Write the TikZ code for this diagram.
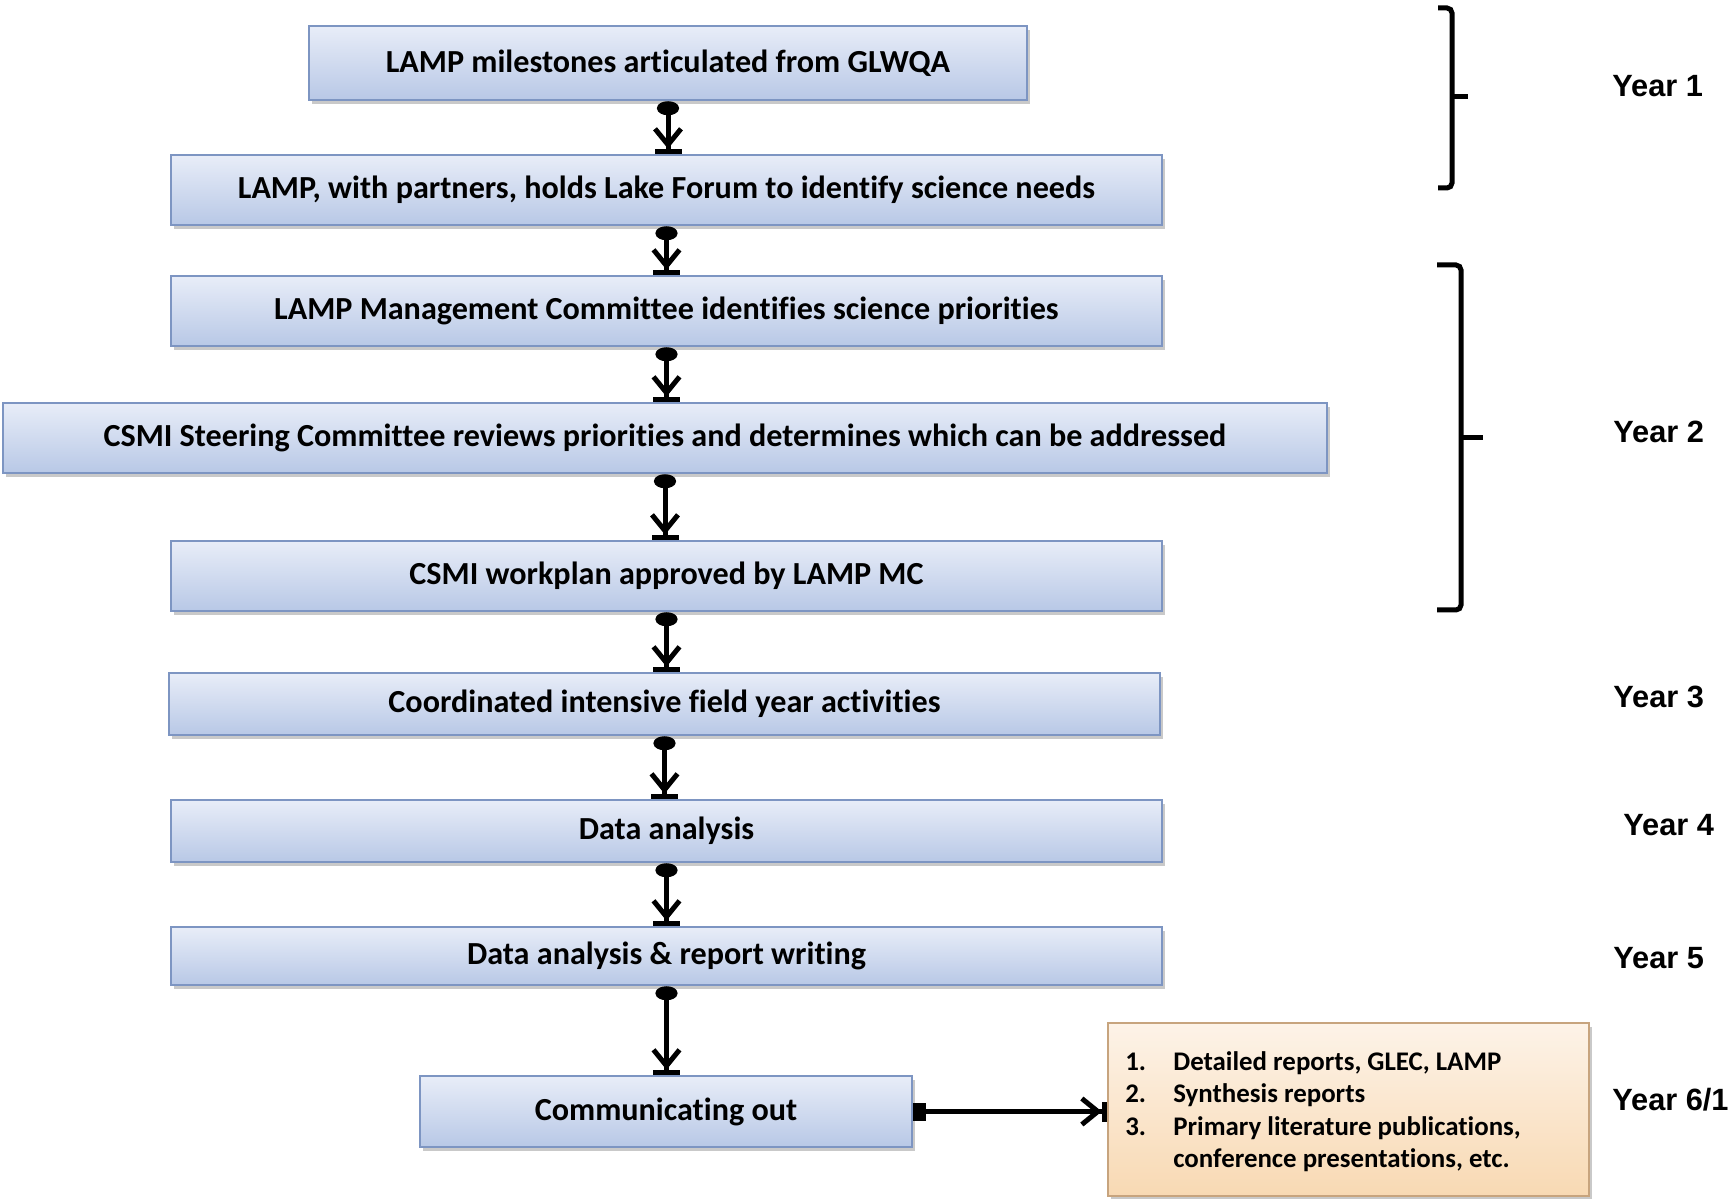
\documentclass[tikz,border=0pt]{standalone}
\usepackage{fontspec}
\setmainfont{Carlito}[Ligatures={NoCommon}]
\newfontfamily\arialfont{Liberation Sans}
\usetikzlibrary{arrows.meta,shadows}
\definecolor{boxtop}{HTML}{E8EDF8}
\definecolor{boxbot}{HTML}{B8C8E6}
\definecolor{boxline}{HTML}{7D95C2}
\definecolor{ortop}{HTML}{FDF3E8}
\definecolor{orbot}{HTML}{F8D9B3}
\definecolor{orline}{HTML}{C7A47E}
\begin{document}
\begin{tikzpicture}[x=0.02cm,y=-0.02cm,
  box/.style={draw=boxline, line width=0.05cm, top color=boxtop, bottom color=boxbot,
    minimum width=19.82cm, minimum height=1.4cm, inner sep=0pt,
    font=\fontsize{18.3}{22}\selectfont\bfseries,
    drop shadow={shadow xshift=0.06cm, shadow yshift=-0.08cm, opacity=0.3, fill=black!70}},
  orbox/.style={draw=orline, line width=0.05cm, top color=ortop, bottom color=orbot,
    minimum width=9.62cm, minimum height=3.46cm, inner sep=0pt,
    drop shadow={shadow xshift=0.06cm, shadow yshift=-0.08cm, opacity=0.3, fill=black!70}},
  conn/.style={line width=0.1cm,
    {Ellipse[length=0.28cm,width=0.44cm]}-{Straight Barb[length=0.32cm,width=0.52cm] Rectangle[length=0.1cm,width=0.54cm]}},
  hconn/.style={line width=0.1cm,
    {Rectangle[length=0.26cm,width=0.36cm]}-{Straight Barb[length=0.32cm,width=0.52cm] Rectangle[length=0.1cm,width=0.4cm]}},
  yearlbl/.style={anchor=west, inner sep=0pt, font=\arialfont\fontsize{17.5}{21}\selectfont\bfseries},
  brace/.style={line width=0.1cm, rounded corners=0.1cm},
  item/.style={anchor=base west, inner sep=0pt, font=\fontsize{15.3}{18}\selectfont\bfseries}
]
\useasboundingbox (0,0) rectangle (1729,1199);

\node[box, minimum width=14.36cm, minimum height=1.48cm] (b1) at (668,63) {LAMP milestones articulated from GLWQA};
\node[box] (b2) at (666.5,190) {LAMP, with partners, holds Lake Forum to identify science needs};
\node[box] (b3) at (666.5,311) {LAMP Management Committee identifies science priorities};
\node[box, minimum width=26.48cm] (b4) at (665,438) {CSMI Steering Committee reviews priorities and determines which can be addressed};
\node[box] (b5) at (666.5,576) {CSMI workplan approved by LAMP MC};
\node[box, minimum height=1.24cm] (b6) at (664.5,704) {Coordinated intensive field year activities};
\node[box, minimum height=1.24cm] (b7) at (666.5,831) {Data analysis};
\node[box, minimum height=1.16cm] (b8) at (666.5,956) {Data analysis \& report writing};
\node[box, minimum width=9.84cm, minimum height=1.42cm] (b9) at (666,1111.5) {Communicating out};
\node[orbox] (b10) at (1348.5,1109.5) {};

\node[item] (i1n) at (1125,1070) {1.};
\node[item] (i1) at (1173,1070) {Detailed reports, GLEC, LAMP};
\node[item] (i2n) at (1125,1102) {2.};
\node[item] (i2) at (1173,1102) {Synthesis reports};
\node[item] (i3n) at (1125,1135) {3.};
\node[item] (i3) at (1173,1135) {Primary literature publications,};
\node[item] (i4) at (1173,1167) {conference presentations, etc.};

\foreach \a/\b in {b1/b2,b2/b3,b3/b4,b4/b5,b5/b6,b6/b7,b7/b8,b8/b9}
  \draw[conn] (\a.south) -- (\a.south |- \b.north);
\draw[hconn] (b9.east) -- (b10.west |- b9.east);

\draw[brace] (1438,8) -- (1452,8) -- (1452,188) -- (1438,188);
\draw[line width=0.1cm] (1452,97) -- (1468,97);
\draw[brace] (1437,265) -- (1461,265) -- (1461,610) -- (1437,610);
\draw[line width=0.1cm] (1461,438) -- (1483,438);

\node[yearlbl] (y1) at (1612,86) {Year 1};
\node[yearlbl] (y2) at (1613,432) {Year 2};
\node[yearlbl] (y3) at (1613,697) {Year 3};
\node[yearlbl] (y4) at (1623,825) {Year 4};
\node[yearlbl] (y5) at (1613,958) {Year 5};
\node[yearlbl] (y6) at (1612,1100) {Year 6/1};
\end{tikzpicture}
\end{document}
